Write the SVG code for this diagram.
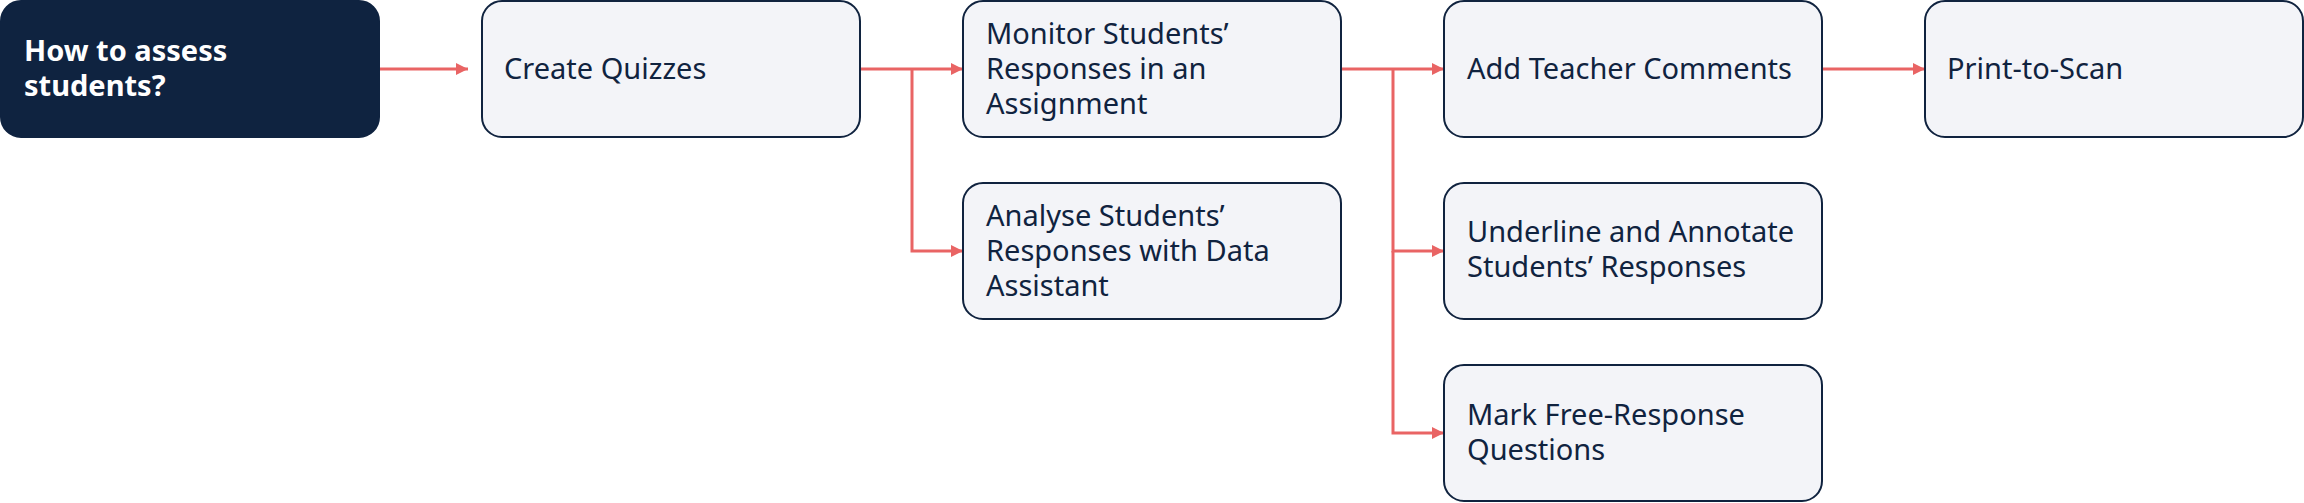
<svg xmlns="http://www.w3.org/2000/svg" width="2304" height="503" viewBox="0 0 2304 503">
<style>
.box{fill:#F3F4F8;stroke:#10233F;stroke-width:2}
.root{fill:#0F2340;stroke:#0F2340;stroke-width:2}
.t{font-family:"Noto Sans","Open Sans","Liberation Sans",sans-serif;font-size:29px;fill:#10233F}
.rt{font-family:"Noto Sans","Open Sans","Liberation Sans",sans-serif;font-size:29px;font-weight:bold;fill:#FFFFFF}
.c{fill:none;stroke:#E96464;stroke-width:3}
</style>
<defs>
<marker id="ah" markerWidth="12" markerHeight="12" refX="12" refY="6" orient="auto" markerUnits="userSpaceOnUse">
<path d="M0,0 L12,6 L0,12 Z" fill="#E96464"/>
</marker>
</defs>
<g id="connectors">
<path class="c" d="M380,69 L468,69" marker-end="url(#ah)"/>
<path class="c" d="M860,69 L912,69 L963,69" marker-end="url(#ah)"/>
<path class="c" d="M912,69 L912,251 L963,251" marker-end="url(#ah)"/>
<path class="c" d="M1341,69 L1393,69 L1444,69" marker-end="url(#ah)"/>
<path class="c" d="M1393,69 L1393,251 L1444,251" marker-end="url(#ah)"/>
<path class="c" d="M1393,251 L1393,433 L1444,433" marker-end="url(#ah)"/>
<path class="c" d="M1822,69 L1925,69" marker-end="url(#ah)"/>
</g>
<g id="n0">
<rect class="root" x="1" y="1" width="378" height="136" rx="20"/>
<text class="rt" x="24" y="61">How to assess</text>
<text class="rt" x="24" y="96">students?</text>
</g>
<g id="n1">
<rect class="box" x="482" y="1" width="378" height="136" rx="20"/>
<text class="t" x="504" y="79">Create Quizzes</text>
</g>
<g id="n2">
<rect class="box" x="963" y="1" width="378" height="136" rx="20"/>
<text class="t" x="986" y="44">Monitor Students’</text>
<text class="t" x="986" y="79">Responses in an</text>
<text class="t" x="986" y="114">Assignment</text>
</g>
<g id="n3">
<rect class="box" x="963" y="183" width="378" height="136" rx="20"/>
<text class="t" x="986" y="226">Analyse Students’</text>
<text class="t" x="986" y="261">Responses with Data</text>
<text class="t" x="986" y="296">Assistant</text>
</g>
<g id="n4">
<rect class="box" x="1444" y="1" width="378" height="136" rx="20"/>
<text class="t" x="1467" y="79">Add Teacher Comments</text>
</g>
<g id="n5">
<rect class="box" x="1444" y="183" width="378" height="136" rx="20"/>
<text class="t" x="1467" y="242">Underline and Annotate</text>
<text class="t" x="1467" y="277">Students’ Responses</text>
</g>
<g id="n6">
<rect class="box" x="1444" y="365" width="378" height="136" rx="20"/>
<text class="t" x="1467" y="425">Mark Free-Response</text>
<text class="t" x="1467" y="460">Questions</text>
</g>
<g id="n7">
<rect class="box" x="1925" y="1" width="378" height="136" rx="20"/>
<text class="t" x="1947" y="79">Print-to-Scan</text>
</g>
</svg>
